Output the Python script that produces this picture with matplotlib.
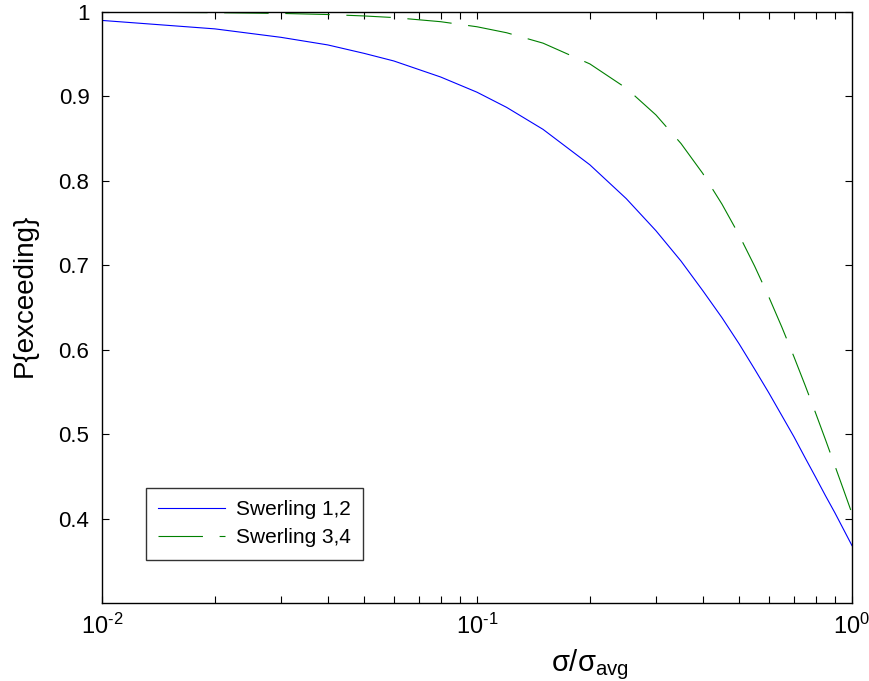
import numpy as np
import matplotlib
matplotlib.use("Agg")
import matplotlib.pyplot as plt
from matplotlib.ticker import LogLocator, NullFormatter

plt.rcParams['font.family'] = ['Liberation Sans', 'DejaVu Sans']
plt.rcParams['mathtext.fontset'] = 'custom'
plt.rcParams['mathtext.rm'] = 'Liberation Sans'
plt.rcParams['lines.scale_dashes'] = False

# sigma / sigma_avg
ratio = [0.01, 0.02, 0.03, 0.04, 0.05, 0.06, 0.08, 0.10, 0.12, 0.15,
         0.20, 0.25, 0.30, 0.35, 0.40, 0.45, 0.50, 0.55, 0.60, 0.65,
         0.70, 0.75, 0.80, 0.85, 0.90, 0.95, 1.00]
swerling12 = [0.990, 0.980, 0.970, 0.961, 0.951, 0.942, 0.923, 0.905, 0.887, 0.861,
              0.819, 0.779, 0.741, 0.705, 0.670, 0.638, 0.607, 0.577, 0.549, 0.522,
              0.497, 0.472, 0.449, 0.427, 0.407, 0.387, 0.368]
swerling34 = [0.9998, 0.9992, 0.9983, 0.9970, 0.9953, 0.9934, 0.9885, 0.9825, 0.9754, 0.9631,
              0.9385, 0.9098, 0.8781, 0.8442, 0.8088, 0.7725, 0.7358, 0.6990, 0.6626, 0.6268,
              0.5918, 0.5578, 0.5249, 0.4933, 0.4628, 0.4338, 0.4060]
yticks = [0.4, 0.5, 0.6, 0.7, 0.8, 0.9, 1.0]
ytick_labels = ['0.4', '0.5', '0.6', '0.7', '0.8', '0.9', '1']
xticks = [0.01, 0.1, 1.0]
xtick_labels = [r'$\mathregular{10^{\text{-}2}}$', r'$\mathregular{10^{\text{-}1}}$',
                r'$\mathregular{10^{0}}$']

fig = plt.figure(figsize=(8.7, 6.81), dpi=100)
ax = fig.add_axes([0.1172, 0.1145, 0.8621, 0.8679])

ax.plot(ratio, swerling12, color='#0000ff', lw=0.8, label='Swerling 1,2')
ax.plot(ratio, swerling34, color='#008000', lw=0.8, dashes=(32, 12), label='Swerling 3,4')

ax.set_xscale('log')
ax.set_xlim(0.01, 1)
ax.set_ylim(0.3, 1)
ax.set_yticks(yticks)
ax.set_yticklabels(ytick_labels, fontsize=16)
ax.set_xticks(xticks)
ax.set_xticklabels(xtick_labels, fontsize=17)
ax.xaxis.set_minor_locator(LogLocator(base=10, subs=np.arange(2, 10)))
ax.xaxis.set_minor_formatter(NullFormatter())

ax.tick_params(which='both', direction='in', top=True, right=True, width=0.8)
ax.tick_params(which='major', length=5)
ax.tick_params(axis='y', pad=9)
ax.tick_params(axis='x', pad=8)
ax.tick_params(which='minor', length=5)
for s in ax.spines.values():
    s.set_linewidth(1.0)

ax.set_xlabel(r'$\mathregular{\sigma/\sigma_{avg}}$', fontsize=21)
ax.xaxis.set_label_coords(0.65, -0.075)
ax.set_ylabel('P{exceeding}', fontsize=20)
ax.yaxis.set_label_coords(-0.085, 0.52)

leg = ax.legend(loc='lower left', bbox_to_anchor=(0.0587, 0.0728), borderaxespad=0,
                fontsize=15, handlelength=3.2, frameon=True, fancybox=False,
                edgecolor='black', borderpad=0.6, labelspacing=0.45, handletextpad=0.5)
leg.get_frame().set_linewidth(1.0)

fig.savefig('out.png', dpi=100)
